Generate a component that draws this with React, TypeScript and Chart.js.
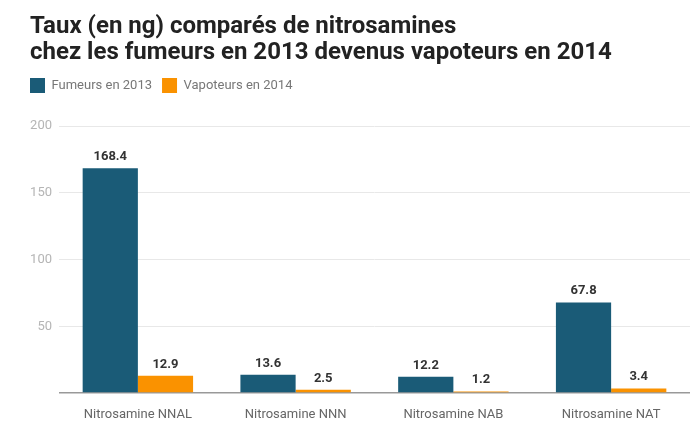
import React, { useEffect, useRef } from "react";
import { Chart, registerables } from "chart.js";

Chart.register(...registerables);

const categories = ["Nitrosamine NNAL", "Nitrosamine NNN", "Nitrosamine NAB", "Nitrosamine NAT"];
const fumeurs2013 = [168.4, 13.6, 12.2, 67.8];
const vapoteurs2014 = [12.9, 2.5, 1.2, 3.4];
const seriesNames = ["Fumeurs en 2013", "Vapoteurs en 2014"];
const titleLines = ["Taux (en ng) comparés de nitrosamines", "chez les fumeurs en 2013 devenus vapoteurs en 2014"];
const yTicks = [0, 50, 100, 150, 200];

const valueLabels = {
  id: "valueLabels",
  afterDatasetsDraw(chart: any) {
    const ctx = chart.ctx;
    ctx.save();
    ctx.font = "bold 13px Roboto";
    ctx.fillStyle = "#333333";
    ctx.textAlign = "center";
    ctx.textBaseline = "alphabetic";
    chart.data.datasets.forEach((ds: any, di: number) => {
      const meta = chart.getDatasetMeta(di);
      meta.data.forEach((bar: any, i: number) => {
        ctx.fillText(String(ds.data[i]), bar.x, bar.y - 8);
      });
    });
    ctx.restore();
  },
};

const legendTweak = {
  id: "legendTweak",
  beforeInit(chart: any) {
    const lg = chart.legend;
    if (lg) {
      const origFit = lg.fit;
      lg.fit = function () {
        origFit.call(this);
        this.height += 23;
      };
    }
  },
  afterLayout(chart: any) {
    const lg = chart.legend;
    if (lg) {
      lg.left -= 10;
      lg.right -= 10;
    }
  },
};

export default function App() {
  const ref = useRef<HTMLCanvasElement>(null);
  useEffect(() => {
    document.body.style.margin = "0";
    const chart = new Chart(ref.current!, {
      type: "bar",
      data: {
        labels: categories,
        datasets: [
          { label: seriesNames[0], data: fumeurs2013, backgroundColor: "#1a5b77", barPercentage: 1, categoryPercentage: 0.7 },
          { label: seriesNames[1], data: vapoteurs2014, backgroundColor: "#fa9200", barPercentage: 1, categoryPercentage: 0.7 },
        ],
      },
      options: {
        animation: false,
        responsive: false,
        maintainAspectRatio: false,
        layout: { padding: { left: 30, right: 10, top: 14, bottom: 0 } },
        plugins: {
          title: {
            display: true,
            text: titleLines,
            align: "start",
            color: "#222222",
            font: { family: "Roboto", size: 24, weight: "bold", lineHeight: "26px" },
            padding: { top: 0, bottom: 2 },
          },
          legend: {
            display: true,
            align: "start",
            labels: {
              boxWidth: 15,
              boxHeight: 15,
              color: "#777777",
              font: { family: "Roboto", size: 13 },
              padding: 10,
            },
          },
          tooltip: { enabled: false },
        },
        scales: {
          x: {
            grid: { display: false },
            border: { display: false },
            ticks: { color: "#666666", font: { family: "Roboto", size: 13 }, padding: 6 },
            afterFit(scale: any) { scale.height = 41; },
          },
          y: {
            min: 0,
            max: 200,
            afterBuildTicks(scale: any) { scale.ticks = yTicks.map((v) => ({ value: v })); },
            grid: {
              color: (c: any) => (c.tick && c.tick.value === 0 ? "#999999" : "#e8e8e8"),
              lineWidth: (c: any) => (c.tick && c.tick.value === 0 ? 1.5 : 1),
              drawTicks: false,
            },
            border: { display: false },
            ticks: {
              color: "#b5b5b5",
              font: { family: "Roboto", size: 13 },
              padding: 7,
              callback: (v: any) => (v === 0 ? "" : String(v)),
            },
            afterFit(scale: any) { scale.width = 29; },
          },
        },
      },
      plugins: [valueLabels, legendTweak],
    });
    return () => chart.destroy();
  }, []);
  return <canvas ref={ref} width={700} height={434} style={{ display: "block" }} />;
}
